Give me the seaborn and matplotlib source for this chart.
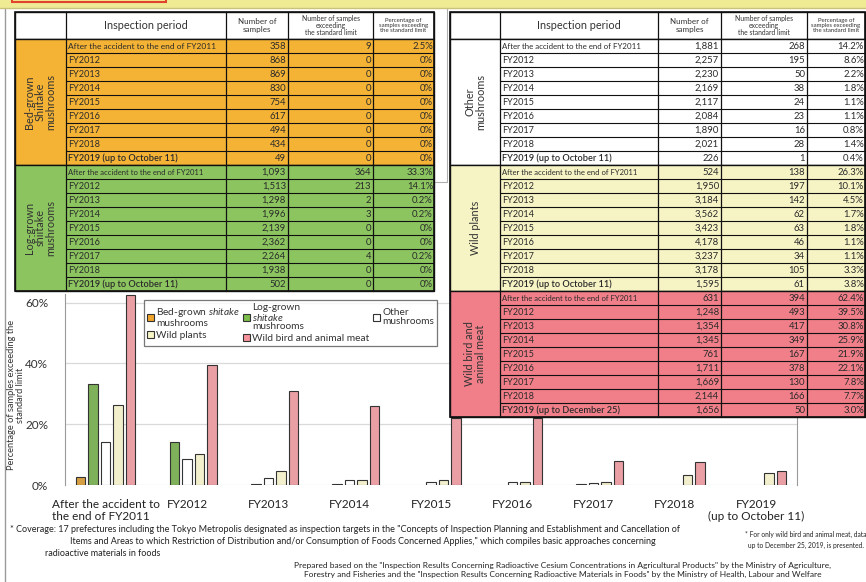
import numpy as np
import pandas as pd
import matplotlib.pyplot as plt
import seaborn as sns
from matplotlib.patches import Rectangle, Patch

sns.set_theme(style="white")
FONT = ["Lato", "DejaVu Sans"]
plt.rcParams["font.family"] = FONT
plt.rcParams["mathtext.fontset"] = "custom"
plt.rcParams["mathtext.rm"] = "Lato"
plt.rcParams["mathtext.it"] = "Lato:italic"

W, H = 866, 582

# ---- data ----
periods = ["After the accident to the end of FY2011", "FY2012", "FY2013", "FY2014",
           "FY2015", "FY2016", "FY2017", "FY2018", "FY2019 (up to October 11)"]
periods_meat = periods[:-1] + ["FY2019 (up to December 25)"]
chart_labels = ["After the accident to\nthe end of FY2011", "FY2012", "FY2013", "FY2014",
                "FY2015", "FY2016", "FY2017", "FY2018", "FY2019\n(up to October 11)"]

bed_n = [358, 868, 869, 830, 754, 617, 494, 434, 49]
bed_ex = [9, 0, 0, 0, 0, 0, 0, 0, 0]
bed_pct = [2.5, 0, 0, 0, 0, 0, 0, 0, 0]

log_n = [1093, 1513, 1298, 1996, 2139, 2362, 2264, 1938, 502]
log_ex = [364, 213, 2, 3, 0, 0, 4, 0, 0]
log_pct = [33.3, 14.1, 0.2, 0.2, 0, 0, 0.2, 0, 0]

other_n = [1881, 2257, 2230, 2169, 2117, 2084, 1890, 2021, 226]
other_ex = [268, 195, 50, 38, 24, 23, 16, 28, 1]
other_pct = [14.2, 8.6, 2.2, 1.8, 1.1, 1.1, 0.8, 1.4, 0.4]

wild_n = [524, 1950, 3184, 3562, 3423, 4178, 3237, 3178, 1595]
wild_ex = [138, 197, 142, 62, 63, 46, 34, 105, 61]
wild_pct = [26.3, 10.1, 4.5, 1.7, 1.8, 1.1, 1.1, 3.3, 3.8]

meat_n = [631, 1248, 1354, 1345, 761, 1711, 1669, 2144, 1656]
meat_ex = [394, 493, 417, 349, 167, 378, 130, 166, 50]
meat_pct = [62.4, 39.5, 30.8, 25.9, 21.9, 22.1, 7.8, 7.7, 3.0]

# values as drawn in the bar chart
chart_bed = [2.5, 0, 0, 0, 0, 0, 0, 0, 0]
chart_log = [33.3, 14.1, 0.2, 0.2, 0, 0, 0.2, 0, 0]
chart_other = [14.2, 8.6, 2.2, 1.8, 1.1, 1.1, 0.8, 0, 0]
chart_wild = [26.3, 10.1, 4.5, 1.7, 1.8, 1.1, 1.1, 3.3, 3.8]
chart_meat = [62.4, 39.5, 30.8, 25.9, 21.9, 22.1, 7.8, 7.7, 4.6]

cats = ["Bed-grown", "Log-grown", "Other", "Wild plants", "Wild bird"]
bar_colors = ["#F0A52A", "#7DBE4C", "#FFFFFF", "#F8F5C6", "#F7929A"]
table_colors = ["#F5B335", "#8CC560", "#FFFFFF", "#F6F3C4", "#F07F89"]

fig = plt.figure(figsize=(W / 100, H / 100), dpi=100)
fig.patch.set_facecolor("white")


def px_axes(x0, y0, x1, y1, z=1):
    ax = fig.add_axes([x0 / W, 1 - y1 / H, (x1 - x0) / W, (y1 - y0) / H])
    ax.set_zorder(z)
    return ax


def ftext(x, y, s, **kw):
    fig.text(x / W, 1 - y / H, s, **kw)


# ---- bar chart ----
ax = px_axes(65, 293.5, 797, 485, z=1)
df = pd.DataFrame({
    "period": np.tile(chart_labels, 5),
    "cat": np.repeat(cats, 9),
    "pct": chart_bed + chart_log + chart_other + chart_wild + chart_meat,
})
sns.barplot(data=df, x="period", y="pct", hue="cat", palette=bar_colors,
            edgecolor="#333333", linewidth=0.8, width=0.77, gap=0.24,
            legend=False, ax=ax, zorder=3)
for p in ax.patches:
    if p.get_height() == 0:
        p.set_visible(False)
ax.set_ylim(0, 63)
ax.set_yticks([0, 20, 40, 60])
ax.set_yticklabels(["0%", "20%", "40%", "60%"], fontsize=8.5, color="#333333")
ax.yaxis.grid(True, color="#D9D9D9", lw=0.9)
ax.set_axisbelow(True)
ax.tick_params(axis="both", length=0)
ax.tick_params(axis="y", pad=12)
ax.tick_params(axis="x", pad=10)
ax.set_xticks(range(9))
ax.set_xticklabels(chart_labels, fontsize=8.5, color="#222222", linespacing=1.15)
ax.get_xticklabels()[0].set_multialignment("left")
ax.set_xlabel("")
ax.set_ylabel("Percentage of samples exceeding the\nstandard limit", fontsize=6.7,
              color="#333333", linespacing=0.95, va="center")
ax.yaxis.set_label_coords(-0.067, 0.47)
for s in ["top", "bottom"]:
    ax.spines[s].set_visible(False)
for s in ["left", "right"]:
    ax.spines[s].set_color("#9A9A9A")
    ax.spines[s].set_linewidth(0.8)

leg_labels = ["Bed-grown $\\it{shitake}$\nmushrooms", "Wild plants",
              "Log-grown\n$\\it{shitake}$\nmushrooms", "Wild bird and animal meat",
              "Other\nmushrooms"]
leg_cols = [bar_colors[0], bar_colors[3], bar_colors[1], bar_colors[4], bar_colors[2]]
handles = [Patch(facecolor=c, edgecolor="#333333", lw=0.8) for c in leg_cols]
leg = ax.legend(handles, leg_labels, ncol=3, loc="upper left",
                bbox_to_anchor=(144 / W, 1 - 353 / H, 293 / W, 53 / H),
                bbox_transform=fig.transFigure, mode="expand", fontsize=7.3,
                handlelength=0.7, handleheight=0.7, handletextpad=0.2,
                borderpad=0.3, labelspacing=0.25, columnspacing=0.5,
                frameon=True, fancybox=False, borderaxespad=0)
leg.get_frame().set_edgecolor("#555555")
leg.get_frame().set_linewidth(0.9)
for t in leg.get_texts():
    t.set_linespacing(0.95)
    t.set_color("#333333")


# ---- tables ----
def draw_table(x0, cols, groups, y0=12, head_h=27, row_h=14):
    nrows = sum(len(g[2]) for g in groups)
    x1 = cols[-1]
    y1 = y0 + head_h + nrows * row_h
    tax = px_axes(x0 - 2, y0 - 2, x1 + 2, y1 + 2, z=3)
    tax.set_xlim(x0 - 2, x1 + 2)
    tax.set_ylim(y1 + 2, y0 - 2)
    tax.axis("off")
    lc = "#111111"
    tc = "#2A2A2A"
    # header
    tax.add_patch(Rectangle((x0, y0), x1 - x0, head_h, fc="white", ec=lc, lw=1.0))
    for cx in cols[1:-1]:
        tax.plot([cx, cx], [y0, y1], color=lc, lw=0.9, zorder=5)
    hy = y0 + head_h / 2
    tax.text((cols[1] + cols[2]) / 2, hy, "Inspection period", ha="center", va="center",
             fontsize=7.8, color="#333333")
    tax.text((cols[2] + cols[3]) / 2, hy, "Number of\nsamples", ha="center", va="center",
             fontsize=5.8, color="#333333", linespacing=1.05)
    tax.text((cols[3] + cols[4]) / 2, hy, "Number of samples\nexceeding\nthe standard limit",
             ha="center", va="center", fontsize=4.9, color="#333333", linespacing=0.95)
    tax.text((cols[4] + cols[5]) / 2, hy, "Percentage of\nsamples exceeding\nthe standard limit",
             ha="center", va="center", fontsize=4.3, color="#333333", linespacing=0.95)
    y = y0 + head_h
    for label, color, pers, ns, exs, pcts, fs0 in groups:
        gh = len(pers) * row_h
        tax.add_patch(Rectangle((x0, y), x1 - x0, gh, fc=color, ec=lc, lw=1.0, zorder=2))
        tax.text((cols[0] + cols[1]) / 2, y + gh / 2, label, rotation=90, ha="center",
                 va="center", fontsize=7.8, color="#333333", linespacing=0.95)
        for i, per in enumerate(pers):
            ry = y + i * row_h
            if i > 0:
                tax.plot([cols[1], x1], [ry, ry], color=lc, lw=0.8, zorder=4)
            cy = ry + row_h / 2 + 0.5
            last = i == len(pers) - 1
            tax.text(cols[1] + 2, cy, per, ha="left", va="center",
                     fontsize=fs0 if i == 0 else 6.6, color=tc,
                     fontweight="semibold" if last else "normal")
            tax.text(cols[3] - 2, cy, f"{ns[i]:,}", ha="right", va="center",
                     fontsize=6.8, color=tc)
            tax.text(cols[4] - 2, cy, f"{exs[i]:,}", ha="right", va="center",
                     fontsize=6.8, color=tc)
            ptxt = "0%" if pcts[i] == 0 else f"{pcts[i]:.1f}%"
            tax.text(cols[5] - 1, cy, ptxt, ha="right", va="center",
                     fontsize=6.8, color=tc)
        y += gh
    tax.add_patch(Rectangle((x0, y0), x1 - x0, y1 - y0, fc="none", ec=lc, lw=1.2, zorder=6))


draw_table(15, [15, 66, 226, 288, 373, 434], [
    ("Bed-grown\nShiitake\nmushrooms", table_colors[0], periods, bed_n, bed_ex, bed_pct, 6.0),
    ("Log-grown\nshiitake\nmushrooms", table_colors[1], periods, log_n, log_ex, log_pct, 5.5),
])
draw_table(450, [450, 500, 658, 721, 807, 865], [
    ("Other\nmushrooms", table_colors[2], periods, other_n, other_ex, other_pct, 5.7),
    ("Wild plants", table_colors[3], periods, wild_n, wild_ex, wild_pct, 5.5),
    ("Wild bird and\nanimal meat", table_colors[4], periods_meat, meat_n, meat_ex, meat_pct, 5.5),
])

# ---- frame / top band ----
fax = px_axes(0, 0, W, H, z=0)
fax.set_xlim(0, W)
fax.set_ylim(H, 0)
fax.axis("off")
fax.add_patch(Rectangle((0, 0), W, 8, fc="#EFEB95", ec="none"))
fax.plot([0, W], [8, 8], color="#C9C27A", lw=1)
fax.add_patch(Rectangle((12, -10), 154, 12, fc="#F5E98A", ec="#E0442E", lw=1.5))
fax.plot([5, 5], [9, H], color="#9A9A9A", lw=1)
fax.plot([447, 447], [9, 182], color="#B0B0B0", lw=0.8)
fax.plot([435, 447], [182, 182], color="#B0B0B0", lw=0.8)

# ---- footnotes ----
ftext(10, 530, "* Coverage: 17 prefectures including the Tokyo Metropolis designated as inspection "
      "targets in the \"Concepts of Inspection Planning and Establishment and Cancellation of",
      fontsize=6.5, color="#222222", va="center")
ftext(70, 542, "Items and Areas to which Restriction of Distribution and/or Consumption of Foods "
      "Concerned Applies,\" which compiles basic approaches concerning",
      fontsize=6.5, color="#222222", va="center")
ftext(45, 553, "radioactive materials in foods", fontsize=6.5, color="#222222", va="center")
ftext(806, 540, "* For only wild bird and animal meat, data\nup to December 25, 2019, is presented.",
      fontsize=4.8, color="#222222", va="center", ha="center", linespacing=1.6)
ftext(563, 570, "Prepared based on the \"Inspection Results Concerning Radioactive Cesium "
      "Concentrations in Agricultural Products\" by the Ministry of Agriculture,\n"
      "Forestry and Fisheries and the \"Inspection Results Concerning Radioactive Materials "
      "in Foods\" by the Ministry of Health, Labour and Welfare",
      fontsize=6.0, color="#222222", va="center", ha="center", linespacing=1.45)

fig.savefig("out.png", dpi=100, facecolor="white")
